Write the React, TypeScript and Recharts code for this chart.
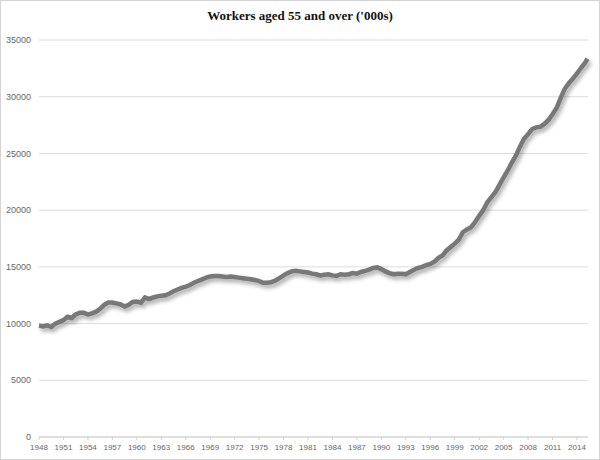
import { LineChart, Line, XAxis, YAxis, CartesianGrid } from "recharts";

// half-yearly readings, decimal year
const periods = [
  1948.0, 1948.5, 1949.0, 1949.5, 1950.0, 1950.5, 1951.0, 1951.5, 1952.0, 1952.5,
  1953.0, 1953.5, 1954.0, 1954.5, 1955.0, 1955.5, 1956.0, 1956.5, 1957.0, 1957.5,
  1958.0, 1958.5, 1959.0, 1959.5, 1960.0, 1960.5, 1961.0, 1961.5, 1962.0, 1962.5,
  1963.0, 1963.5, 1964.0, 1964.5, 1965.0, 1965.5, 1966.0, 1966.5, 1967.0, 1967.5,
  1968.0, 1968.5, 1969.0, 1969.5, 1970.0, 1970.5, 1971.0, 1971.5, 1972.0, 1972.5,
  1973.0, 1973.5, 1974.0, 1974.5, 1975.0, 1975.5, 1976.0, 1976.5, 1977.0, 1977.5,
  1978.0, 1978.5, 1979.0, 1979.5, 1980.0, 1980.5, 1981.0, 1981.5, 1982.0, 1982.5,
  1983.0, 1983.5, 1984.0, 1984.5, 1985.0, 1985.5, 1986.0, 1986.5, 1987.0, 1987.5,
  1988.0, 1988.5, 1989.0, 1989.5, 1990.0, 1990.5, 1991.0, 1991.5, 1992.0, 1992.5,
  1993.0, 1993.5, 1994.0, 1994.5, 1995.0, 1995.5, 1996.0, 1996.5, 1997.0, 1997.5,
  1998.0, 1998.5, 1999.0, 1999.5, 2000.0, 2000.5, 2001.0, 2001.5, 2002.0, 2002.5,
  2003.0, 2003.5, 2004.0, 2004.5, 2005.0, 2005.5, 2006.0, 2006.5, 2007.0, 2007.5,
  2008.0, 2008.5, 2009.0, 2009.5, 2010.0, 2010.5, 2011.0, 2011.5, 2012.0, 2012.5,
  2013.0, 2013.5, 2014.0, 2014.5, 2015.0, 2015.3,
];

// workers aged 55+ ('000s)
const workers = [
  9800, 9750, 9850, 9700, 10000, 10150, 10300, 10600, 10500, 10800,
  10950, 10950, 10800, 10900, 11050, 11300, 11650, 11850, 11850, 11780,
  11700, 11500, 11650, 11900, 11950, 11850, 12300, 12150, 12300, 12400,
  12450, 12500, 12650, 12850, 13000, 13150, 13250, 13400, 13600, 13750,
  13900, 14050, 14150, 14200, 14200, 14150, 14100, 14150, 14100, 14050,
  14000, 13950, 13900, 13850, 13750, 13600, 13600, 13650, 13800, 14000,
  14250, 14450, 14600, 14650, 14600, 14550, 14500, 14400, 14350, 14250,
  14300, 14350, 14250, 14200, 14350, 14300, 14350, 14450, 14400, 14550,
  14650, 14750, 14900, 14950, 14800, 14600, 14450, 14350, 14400, 14400,
  14350, 14550, 14750, 14900, 15000, 15150, 15250, 15450, 15800, 16000,
  16450, 16750, 17050, 17400, 18050, 18300, 18500, 18950, 19500, 20000,
  20700, 21150, 21600, 22250, 22900, 23500, 24200, 24800, 25600, 26300,
  26700, 27150, 27300, 27350, 27600, 27950, 28450, 29000, 29900, 30700,
  31200, 31600, 32050, 32550, 33000, 33350,
];

const yearTicks = [
  1948, 1951, 1954, 1957, 1960, 1963, 1966, 1969, 1972, 1975, 1978, 1981,
  1984, 1987, 1990, 1993, 1996, 1999, 2002, 2005, 2008, 2011, 2014,
];
const valueTicks = [0, 5000, 10000, 15000, 20000, 25000, 30000, 35000];

const data = periods.map((t, i) => ({ t, value: workers[i] }));

const axisFont = { fontFamily: "'Liberation Sans', Arial, sans-serif", fill: "#666" };

export default function App() {
  return (
    <div
      style={{
        position: "relative",
        width: 600,
        height: 460,
        boxSizing: "border-box",
        border: "1px solid #d4d4d4",
        background: "#fff",
      }}
    >
      <style>{`
        body { margin: 0; }
        .workers-line .recharts-line-curve { filter: drop-shadow(2px 3px 2px rgba(0,0,0,0.35)); }
      `}</style>
      <div
        style={{
          position: "absolute",
          top: 7,
          left: 0,
          width: "100%",
          textAlign: "center",
          fontFamily: "'Liberation Serif', 'Times New Roman', serif",
          fontWeight: "bold",
          fontSize: 13,
          color: "#111",
        }}
      >
        Workers aged 55 and over ('000s)
      </div>
      <LineChart
        width={598}
        height={458}
        data={data}
        margin={{ top: 39, right: 11, bottom: 8, left: 0 }}
      >
        <CartesianGrid vertical={false} stroke="#dcdcdc" />
        <XAxis
          dataKey="t"
          type="number"
          domain={[1948, 2015.35]}
          ticks={yearTicks}
          interval={0}
          height={14}
          axisLine={{ stroke: "#d0d0d0" }}
          tickLine={{ stroke: "#d0d0d0" }}
          tickSize={3}
          tickMargin={4}
          tick={{ ...axisFont, fontSize: 8 }}
        />
        <YAxis
          width={38}
          domain={[0, 35000]}
          ticks={valueTicks}
          interval={0}
          axisLine={false}
          tickLine={false}
          tick={{ ...axisFont, fontSize: 9 }}
        />
        <Line
          className="workers-line"
          type="linear"
          dataKey="value"
          stroke="#787878"
          strokeWidth={4.5}
          dot={false}
          isAnimationActive={false}
        />
      </LineChart>
    </div>
  );
}
